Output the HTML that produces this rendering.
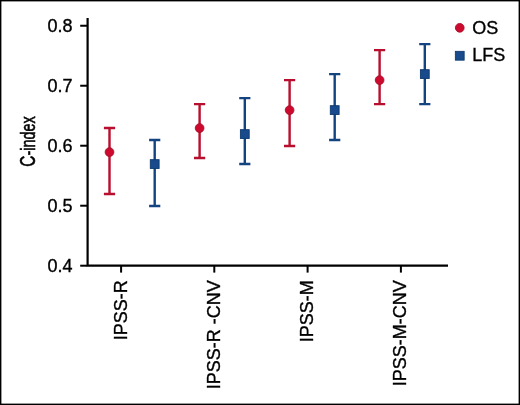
<!DOCTYPE html>
<html><head><meta charset="utf-8"><style>
html,body{margin:0;padding:0;background:#fff;}
body{width:520px;height:405px;overflow:hidden;}
svg{display:block;}
text{font-family:"Liberation Sans",Arial,Helvetica,sans-serif;font-size:18px;fill:#000;stroke:#000;stroke-width:0.35px;}
text.cn{font-size:20.6px;stroke-width:0.6px;}
</style></head><body>
<svg width="520" height="405" viewBox="0 0 520 405">
<rect x="0.7" y="0.7" width="518.6" height="403.6" fill="#fff" stroke="#000" stroke-width="1.4"/>
<path d="M87.6 17.9V265.70H448" stroke="#000" stroke-width="2.2" fill="none"/>
<path d="M80.2 265.70H87" stroke="#000" stroke-width="2"/><text x="72.5" y="271.50" text-anchor="end">0.4</text><path d="M80.2 205.71H87" stroke="#000" stroke-width="2"/><text x="72.5" y="211.51" text-anchor="end">0.5</text><path d="M80.2 145.72H87" stroke="#000" stroke-width="2"/><text x="72.5" y="151.52" text-anchor="end">0.6</text><path d="M80.2 85.73H87" stroke="#000" stroke-width="2"/><text x="72.5" y="91.53" text-anchor="end">0.7</text><path d="M80.2 25.74H87" stroke="#000" stroke-width="2"/><text x="72.5" y="31.54" text-anchor="end">0.8</text><path d="M121.1 265V272.6" stroke="#000" stroke-width="2"/><text transform="translate(126.50 280.3) rotate(-90)" text-anchor="end">IPSS-R</text><path d="M214.3 265V272.6" stroke="#000" stroke-width="2"/><text transform="translate(219.70 280.3) rotate(-90)" text-anchor="end">IPSS-R -CNV</text><path d="M307.6 265V272.6" stroke="#000" stroke-width="2"/><text transform="translate(313.00 280.3) rotate(-90)" text-anchor="end">IPSS-M</text><path d="M400.9 265V272.6" stroke="#000" stroke-width="2"/><text transform="translate(406.30 280.3) rotate(-90)" text-anchor="end">IPSS-M-CNV</text>
<text class="cn" transform="translate(34.7 141.5) rotate(-90) scale(0.7 1)" text-anchor="middle"><tspan style="font-size:22px">C</tspan>-index</text>
<path d="M109.50 194.06V128.07M103.90 194.06h11.2M103.90 128.07h11.2" stroke="#b80f2e" stroke-width="2.4" fill="none"/><circle cx="109.50" cy="152.07" r="4.35" fill="#cd0a2e" stroke="#a80c2a" stroke-width="0.9"/><path d="M154.70 206.06V140.07M149.10 206.06h11.2M149.10 140.07h11.2" stroke="#14447f" stroke-width="2.4" fill="none"/><rect x="150.30" y="159.67" width="8.8" height="8.8" fill="#184a8c" stroke="#0e3a70" stroke-width="0.9"/><path d="M199.60 158.07V104.08M194.00 158.07h11.2M194.00 104.08h11.2" stroke="#b80f2e" stroke-width="2.4" fill="none"/><circle cx="199.60" cy="128.07" r="4.35" fill="#cd0a2e" stroke="#a80c2a" stroke-width="0.9"/><path d="M244.80 164.07V98.08M239.20 164.07h11.2M239.20 98.08h11.2" stroke="#14447f" stroke-width="2.4" fill="none"/><rect x="240.40" y="129.67" width="8.8" height="8.8" fill="#184a8c" stroke="#0e3a70" stroke-width="0.9"/><path d="M289.60 146.07V80.08M284.00 146.07h11.2M284.00 80.08h11.2" stroke="#b80f2e" stroke-width="2.4" fill="none"/><circle cx="289.60" cy="110.08" r="4.35" fill="#cd0a2e" stroke="#a80c2a" stroke-width="0.9"/><path d="M334.70 140.07V74.08M329.10 140.07h11.2M329.10 74.08h11.2" stroke="#14447f" stroke-width="2.4" fill="none"/><rect x="330.30" y="105.68" width="8.8" height="8.8" fill="#184a8c" stroke="#0e3a70" stroke-width="0.9"/><path d="M379.60 104.08V50.09M374.00 104.08h11.2M374.00 50.09h11.2" stroke="#b80f2e" stroke-width="2.4" fill="none"/><circle cx="379.60" cy="80.08" r="4.35" fill="#cd0a2e" stroke="#a80c2a" stroke-width="0.9"/><path d="M424.80 104.08V44.09M419.20 104.08h11.2M419.20 44.09h11.2" stroke="#14447f" stroke-width="2.4" fill="none"/><rect x="420.40" y="69.68" width="8.8" height="8.8" fill="#184a8c" stroke="#0e3a70" stroke-width="0.9"/>
<circle cx="459.75" cy="27.8" r="4.35" fill="#cd0a2e" stroke="#a80c2a" stroke-width="0.9"/>
<rect x="455.35" y="51.35" width="8.8" height="8.8" fill="#184a8c" stroke="#0e3a70" stroke-width="0.9"/>
<text x="472.3" y="34.1">OS</text>
<text x="472.3" y="61.0">LFS</text>
</svg>
</body></html>
